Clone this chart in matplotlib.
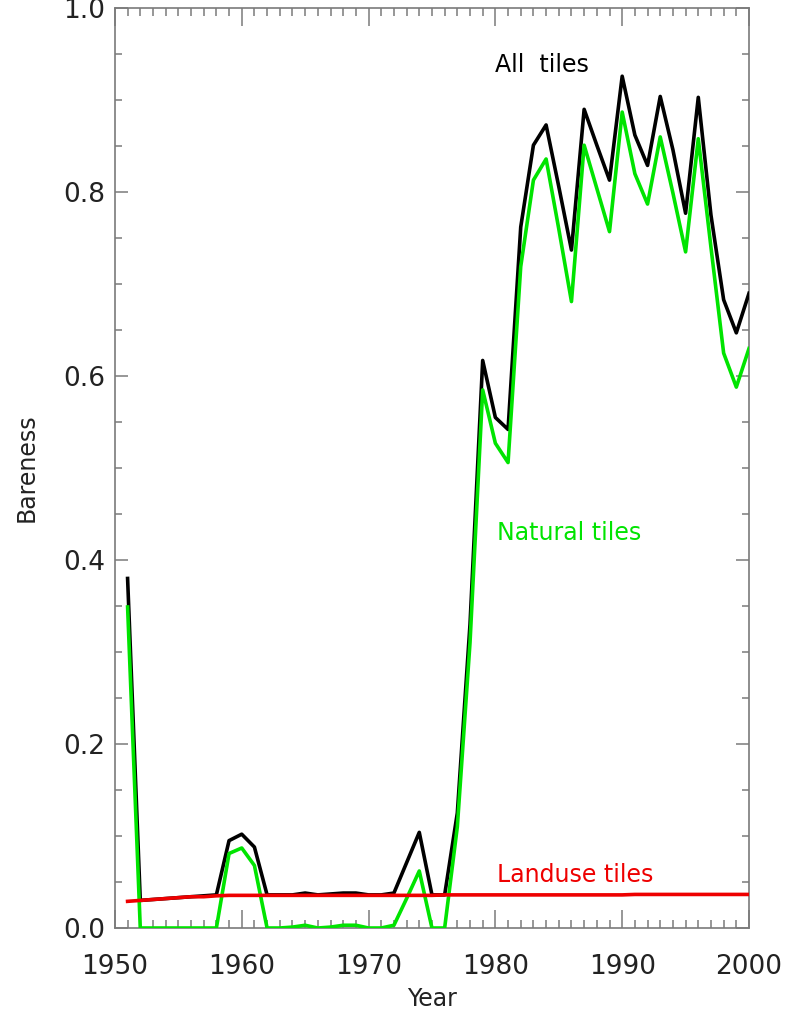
import numpy as np
import matplotlib.pyplot as plt
from matplotlib.ticker import MultipleLocator

years = np.arange(1951, 2001)

# bareness of all tiles (black)
all_tiles = [0.380, 0.030, 0.031, 0.032, 0.033, 0.034, 0.035, 0.036, 0.095, 0.102,
             0.088, 0.036, 0.036, 0.036, 0.038, 0.036, 0.037, 0.038, 0.038, 0.036,
             0.036, 0.038, 0.071, 0.104, 0.036, 0.036, 0.125, 0.330, 0.617, 0.555,
             0.542, 0.762, 0.851, 0.873, 0.806, 0.737, 0.890, 0.851, 0.813, 0.926,
             0.862, 0.829, 0.904, 0.846, 0.777, 0.903, 0.775, 0.683, 0.647, 0.690]

# natural tiles (green)
natural_tiles = [0.349, 0.0, 0.0, 0.0, 0.0, 0.0, 0.0, 0.0, 0.081, 0.087,
                 0.068, 0.0, 0.0, 0.001, 0.003, 0.0, 0.001, 0.003, 0.003, 0.0,
                 0.0, 0.003, 0.032, 0.062, 0.0, 0.0, 0.110, 0.310, 0.585, 0.527,
                 0.506, 0.719, 0.813, 0.836, 0.760, 0.681, 0.851, 0.804, 0.757, 0.887,
                 0.820, 0.787, 0.860, 0.799, 0.735, 0.858, 0.740, 0.625, 0.588, 0.630]

# landuse tiles (red)
landuse_tiles = [0.029, 0.030, 0.031, 0.032, 0.033, 0.034, 0.034, 0.035, 0.0355, 0.0355,
                 0.0355, 0.0355, 0.0355, 0.0355, 0.0355, 0.0355, 0.0355, 0.0355, 0.0355, 0.0355,
                 0.0355, 0.0355, 0.0355, 0.0355, 0.0355, 0.036, 0.036, 0.036, 0.036, 0.036,
                 0.036, 0.036, 0.036, 0.036, 0.036, 0.036, 0.036, 0.036, 0.036, 0.036,
                 0.0365, 0.0365, 0.0365, 0.0365, 0.0365, 0.0365, 0.0365, 0.0365, 0.0365, 0.0365]

GREEN = '#00e400'
RED = '#ee0000'

fig, ax = plt.subplots(figsize=(7.98, 10.16), dpi=100)
fig.subplots_adjust(left=0.144, right=0.9386, bottom=0.0866, top=0.992)

ax.plot(years, all_tiles, color='black', lw=2.6, zorder=3)
ax.plot(years, natural_tiles, color=GREEN, lw=2.6, zorder=4)
ax.plot(years, landuse_tiles, color=RED, lw=2.6, zorder=5)

ax.text(1980.0, 0.938, 'All  tiles', color='black', fontsize=17, va='center', ha='left')
ax.text(1980.1, 0.429, 'Natural tiles', color=GREEN, fontsize=17, va='center', ha='left')
ax.text(1980.1, 0.058, 'Landuse tiles', color=RED, fontsize=17, va='center', ha='left')

ax.set_xlim(1950, 2000)
ax.set_ylim(0, 1.0)
ax.xaxis.set_major_locator(MultipleLocator(10))
ax.xaxis.set_minor_locator(MultipleLocator(1))
ax.yaxis.set_major_locator(MultipleLocator(0.2))
ax.yaxis.set_minor_locator(MultipleLocator(0.05))
ax.yaxis.set_major_formatter(plt.FormatStrFormatter('%.1f'))

for s in ax.spines.values():
    s.set_color('#7a7a7a')
    s.set_linewidth(1.2)

ax.tick_params(which='both', direction='in', top=True, right=True, color='#7a7a7a', width=1.1)
ax.tick_params(axis='x', which='major', length=13, pad=19, labelsize=19)
ax.tick_params(axis='x', which='minor', length=6)
ax.tick_params(axis='y', which='major', length=9.5, pad=7, labelsize=19)
ax.tick_params(axis='y', which='minor', length=5)

ax.set_xlabel('Year', fontsize=17, color='#222222', labelpad=5)
ax.set_ylabel('Bareness', fontsize=17, color='#222222', labelpad=18)
for lab in ax.get_xticklabels() + ax.get_yticklabels():
    lab.set_color('#222222')

plt.savefig('out.png')
